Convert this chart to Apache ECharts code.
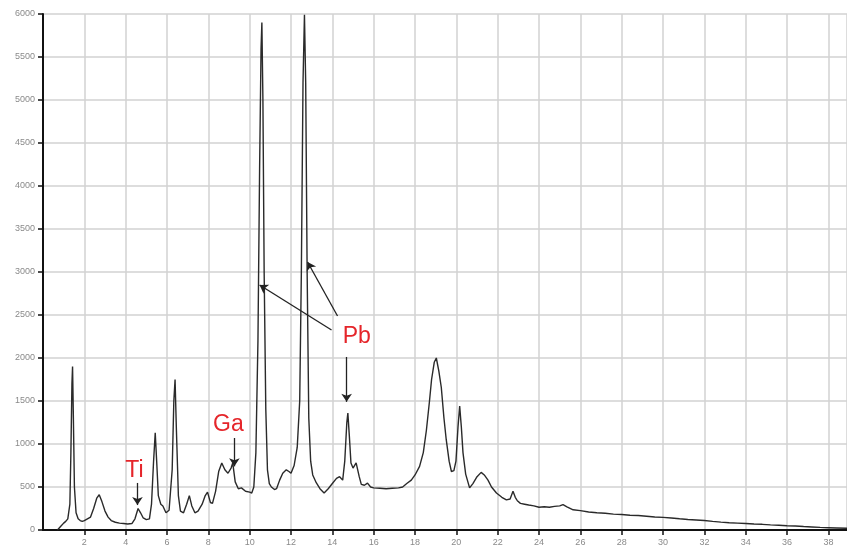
<!DOCTYPE html>
<html>
<head>
<meta charset="utf-8">
<script src="https://cdn.jsdelivr.net/npm/echarts@6/dist/echarts.min.js"></script>
<style>
  html, body { margin: 0; padding: 0; background: #fff; }
  #spectrum { width: 847px; height: 555px; }
</style>
</head>
<body>
<div id="spectrum"></div>
<script>
// energy (keV) and counts
var energy = [
  0.7, 0.85, 1.0, 1.1, 1.2, 1.3, 1.35, 1.4, 1.43, 1.47, 1.52, 1.6, 1.7, 1.8, 1.9, 2.0, 2.15, 2.3, 2.45, 2.6,
  2.72, 2.85, 3.0, 3.15, 3.3, 3.5, 3.7, 3.9, 4.1, 4.3, 4.45, 4.6, 4.72, 4.85, 5.0, 5.15, 5.25, 5.35, 5.43, 5.5,
  5.58, 5.7, 5.8, 5.95, 6.1, 6.25, 6.33, 6.39, 6.45, 6.55, 6.65, 6.8, 6.95, 7.08, 7.2, 7.35, 7.5, 7.7, 7.85, 7.96,
  8.1, 8.2, 8.35, 8.5, 8.65, 8.8, 8.95, 9.1, 9.18, 9.3, 9.45, 9.6, 9.8, 10.0, 10.1, 10.2, 10.3, 10.4, 10.48, 10.55,
  10.59, 10.64, 10.7, 10.78, 10.86, 10.95, 11.05, 11.2, 11.3, 11.45, 11.6, 11.77, 11.9, 12.0, 12.15, 12.3, 12.42, 12.5, 12.58, 12.65,
  12.71, 12.78, 12.86, 12.95, 13.05, 13.22, 13.4, 13.6, 13.8, 14.0, 14.2, 14.35, 14.5, 14.6, 14.7, 14.75, 14.82, 14.9, 15.0, 15.15,
  15.3, 15.4, 15.55, 15.7, 15.85, 16.0, 16.3, 16.6, 16.9, 17.2, 17.4, 17.6, 17.82, 18.0, 18.22, 18.4, 18.55, 18.7, 18.8, 18.93,
  19.03, 19.15, 19.27, 19.4, 19.51, 19.65, 19.76, 19.88, 19.98, 20.08, 20.16, 20.24, 20.32, 20.45, 20.64, 20.8, 21.0, 21.2, 21.35, 21.53,
  21.7, 21.94, 22.2, 22.42, 22.6, 22.74, 22.85, 22.95, 23.1, 23.3, 23.5, 23.75, 24.0, 24.25, 24.5, 24.75, 25.0, 25.16, 25.35, 25.65,
  26.0, 26.4, 26.8, 27.2, 27.6, 28.0, 28.4, 28.8, 29.2, 29.6, 30.0, 30.4, 30.8, 31.2, 31.6, 32.0, 32.4, 32.8, 33.2, 33.6,
  34.0, 34.4, 34.8, 35.2, 35.6, 36.0, 36.4, 36.8, 37.2, 37.6, 38.0, 38.4, 38.9
];
var counts = [
  0, 40, 80, 100, 130, 300, 900, 1700, 1900, 1300, 500, 200, 130, 110, 100, 110, 130, 150, 250, 370,
  410, 330, 220, 150, 110, 90, 80, 75, 70, 75, 130, 250, 200, 140, 120, 130, 300, 800, 1130, 800,
  400, 300, 280, 200, 230, 700, 1500, 1750, 1200, 400, 220, 200, 300, 400, 280, 200, 220, 300, 400, 440,
  320, 310, 450, 680, 780, 700, 660, 720, 780, 560, 480, 490, 450, 440, 430, 500, 900, 2200, 4200, 5600,
  5900, 5000, 3000, 1400, 700, 540, 500, 470, 480, 580, 660, 700, 680, 660, 750, 960, 1500, 3000, 5200, 5990,
  5200, 3000, 1300, 800, 640, 550, 480, 430, 480, 540, 600, 620, 580, 800, 1250, 1360, 1100, 780, 720, 780,
  620, 530, 520, 545, 500, 490, 485, 480, 485, 490, 500, 540, 580, 640, 740, 900, 1160, 1500, 1750, 1950,
  2000, 1850, 1660, 1300, 1050, 800, 680, 690, 800, 1200, 1440, 1200, 900, 650, 490, 540, 620, 670, 640, 580,
  500, 430, 380, 350, 360, 450, 380, 340, 310, 300, 290, 280, 265, 270, 265, 275, 280, 295, 270, 235,
  225, 210, 200, 195, 185, 180, 172, 168, 160, 152, 147, 140, 130, 122, 116, 110, 100, 92, 85, 80,
  75, 70, 66, 60, 55, 50, 46, 40, 35, 30, 27, 24, 20
];

// element labels and arrows (data coordinates)
var labelNames = ['Ti', 'Ga', 'Pb'];
var labelCoords = [[4.42, 686], [8.97, 1221], [15.18, 2244]];
var arrowFrom = [[4.57, 547], [9.26, 1070], [13.96, 2326], [14.25, 2488], [14.69, 2012]];
var arrowTo = [[4.57, 290], [9.26, 740], [10.48, 2849], [12.8, 3116], [14.69, 1490]];

var chart = echarts.init(document.getElementById('spectrum'));

var points = energy.map(function (e, i) { return [e, counts[i]]; });

var option = {
    animation: false,
    backgroundColor: '#fff',
    grid: { left: 43, right: 0, top: 14, bottom: 25 },
    xAxis: {
        type: 'value',
        min: 0,
        max: 38.9,
        interval: 2,
        axisLine: { lineStyle: { color: '#111', width: 2 } },
        axisTick: { length: 5, lineStyle: { color: '#111', width: 1.5 } },
        axisLabel: {
            color: '#8a8a8a', fontSize: 9, margin: 8,
            fontFamily: 'Liberation Sans',
            showMinLabel: false, showMaxLabel: false
        },
        splitLine: { lineStyle: { color: '#d2d2d2', width: 1.5 } }
    },
    yAxis: {
        type: 'value',
        min: 0,
        max: 6000,
        interval: 500,
        axisLine: { show: true, lineStyle: { color: '#111', width: 2 } },
        axisTick: { show: true, length: 5, lineStyle: { color: '#111', width: 1.5 } },
        axisLabel: {
            color: '#8a8a8a', fontSize: 9, margin: 8, fontFamily: 'Liberation Sans',
            formatter: function (v) { return String(v); }
        },
        splitLine: { lineStyle: { color: '#d2d2d2', width: 1.5 } }
    },
    series: [
        {
            type: 'line',
            data: points,
            symbol: 'none',
            clip: false,
            lineStyle: { color: '#2a2a2a', width: 1.4 },
            markPoint: {
                symbol: 'circle',
                symbolSize: 0,
                silent: true,
                label: {
                    show: true,
                    position: 'inside',
                    color: '#e5252a',
                    fontSize: 23,
                    fontFamily: 'Liberation Sans'
                },
                data: labelNames.map(function (n, i) {
                    return { name: n, coord: labelCoords[i], label: { formatter: n } };
                })
            },
            markLine: {
                silent: true,
                symbol: ['none', 'arrow'],
                symbolSize: 8,
                label: { show: false },
                lineStyle: { color: '#222', width: 1.3, type: 'solid' },
                data: arrowFrom.map(function (f, i) {
                    return [{ coord: f }, { coord: arrowTo[i] }];
                })
            }
        }
    ]
};

chart.setOption(option);
</script>
</body>
</html>
